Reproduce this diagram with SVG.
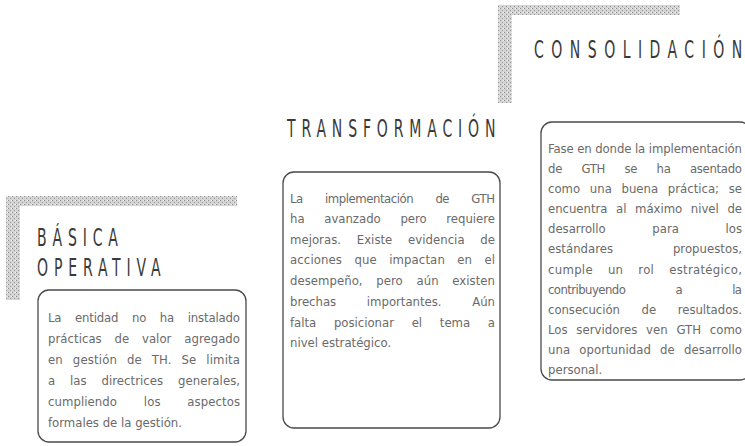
<svg xmlns="http://www.w3.org/2000/svg" width="745" height="446" viewBox="0 0 745 446">
<defs>
<pattern id="hatch" width="4" height="4" patternUnits="userSpaceOnUse">
<rect width="4" height="4" fill="#d4d4d4"/>
<rect width="1" height="1" fill="#8a8a8a"/>
<rect x="2" y="2" width="1" height="1" fill="#9a9a9a"/>
<rect x="3" y="0" width="1" height="1" fill="#f0f0f0"/>
</pattern>
<style>
.tab{fill:url(#hatch);}
.title{font-family:"DejaVu Sans Condensed","DejaVu Sans",sans-serif;font-stretch:condensed;font-size:24px;letter-spacing:9px;fill:#3a3a3a;}
.wide{letter-spacing:11.5px;}
.box{fill:#fff;stroke:#4a4a4a;stroke-width:1.3;}
.body{font-family:"DejaVu Sans Condensed","DejaVu Sans",sans-serif;font-stretch:condensed;font-size:13px;fill:#6a6a6a;}
</style>
</defs>
<rect width="745" height="446" fill="#fff"/>

<g id="basica-operativa">
<path class="tab" d="M6 196 H237 V206 H20 V300 H6 Z"/>
<text class="title" transform="translate(37 246) scale(0.65 1)">BÁSICA</text>
<text class="title" transform="translate(37 276) scale(0.65 1)">OPERATIVA</text>
<rect class="box" x="38" y="290" width="208" height="152" rx="11"/>
<text class="body" x="48" y="322" word-spacing="10" textLength="192" lengthAdjust="spacing">La entidad no ha instalado</text>
<text class="body" x="48" y="343" word-spacing="9" textLength="192" lengthAdjust="spacing">prácticas de valor agregado</text>
<text class="body" x="48" y="364" word-spacing="6" textLength="192" lengthAdjust="spacing">en gestión de TH. Se limita</text>
<text class="body" x="48" y="385" word-spacing="11" textLength="192" lengthAdjust="spacing">a las directrices generales,</text>
<text class="body" x="48" y="406" word-spacing="23" textLength="192" lengthAdjust="spacing">cumpliendo los aspectos</text>
<text class="body" x="48" y="427">formales de la gestión.</text>
</g>

<g id="transformacion">
<text class="title" transform="translate(287 137) scale(0.65 1)">TRANSFORMACIÓN</text>
<rect class="box" x="283" y="172" width="217" height="256" rx="11"/>
<text class="body" x="290" y="203" word-spacing="19" textLength="205" lengthAdjust="spacing">La implementación de GTH</text>
<text class="body" x="290" y="223" word-spacing="16" textLength="205" lengthAdjust="spacing">ha avanzado pero requiere</text>
<text class="body" x="290" y="244" word-spacing="12" textLength="205" lengthAdjust="spacing">mejoras. Existe evidencia de</text>
<text class="body" x="290" y="264" word-spacing="8.5" textLength="205" lengthAdjust="spacing">acciones que impactan en el</text>
<text class="body" x="290" y="285" word-spacing="10" textLength="205" lengthAdjust="spacing">desempeño, pero aún existen</text>
<text class="body" x="290" y="306" word-spacing="27" textLength="205" lengthAdjust="spacing">brechas importantes. Aún</text>
<text class="body" x="290" y="327" word-spacing="14" textLength="205" lengthAdjust="spacing">falta posicionar el tema a</text>
<text class="body" x="290" y="347">nivel estratégico.</text>
</g>

<g id="consolidacion">
<path class="tab" d="M498 5 H680 V15 H512 V103 H498 Z"/>
<text class="title wide" transform="translate(534 58) scale(0.65 1)">CONSOLIDACIÓN</text>
<rect class="box" x="541" y="122" width="210" height="258" rx="11"/>
<text class="body" x="548" y="153" textLength="194" lengthAdjust="spacing">Fase en donde la implementación</text>
<text class="body" x="548" y="173" word-spacing="16" textLength="194" lengthAdjust="spacing">de GTH se ha asentado</text>
<text class="body" x="548" y="193" word-spacing="6" textLength="194" lengthAdjust="spacing">como una buena práctica; se</text>
<text class="body" x="548" y="213" word-spacing="5" textLength="194" lengthAdjust="spacing">encuentra al máximo nivel de</text>
<text class="body" x="548" y="233" word-spacing="43" textLength="194" lengthAdjust="spacing">desarrollo para los</text>
<text class="body" x="548" y="253" word-spacing="56" textLength="194" lengthAdjust="spacing">estándares propuestos,</text>
<text class="body" x="548" y="274" word-spacing="11" textLength="194" lengthAdjust="spacing">cumple un rol estratégico,</text>
<text class="body" x="548" y="294" word-spacing="47" textLength="194" lengthAdjust="spacing">contribuyendo a la</text>
<text class="body" x="548" y="314" word-spacing="18" textLength="194" lengthAdjust="spacing">consecución de resultados.</text>
<text class="body" x="548" y="334" word-spacing="5" textLength="194" lengthAdjust="spacing">Los servidores ven GTH como</text>
<text class="body" x="548" y="354" word-spacing="5.5" textLength="194" lengthAdjust="spacing">una oportunidad de desarrollo</text>
<text class="body" x="548" y="374">personal.</text>
</g>
</svg>
